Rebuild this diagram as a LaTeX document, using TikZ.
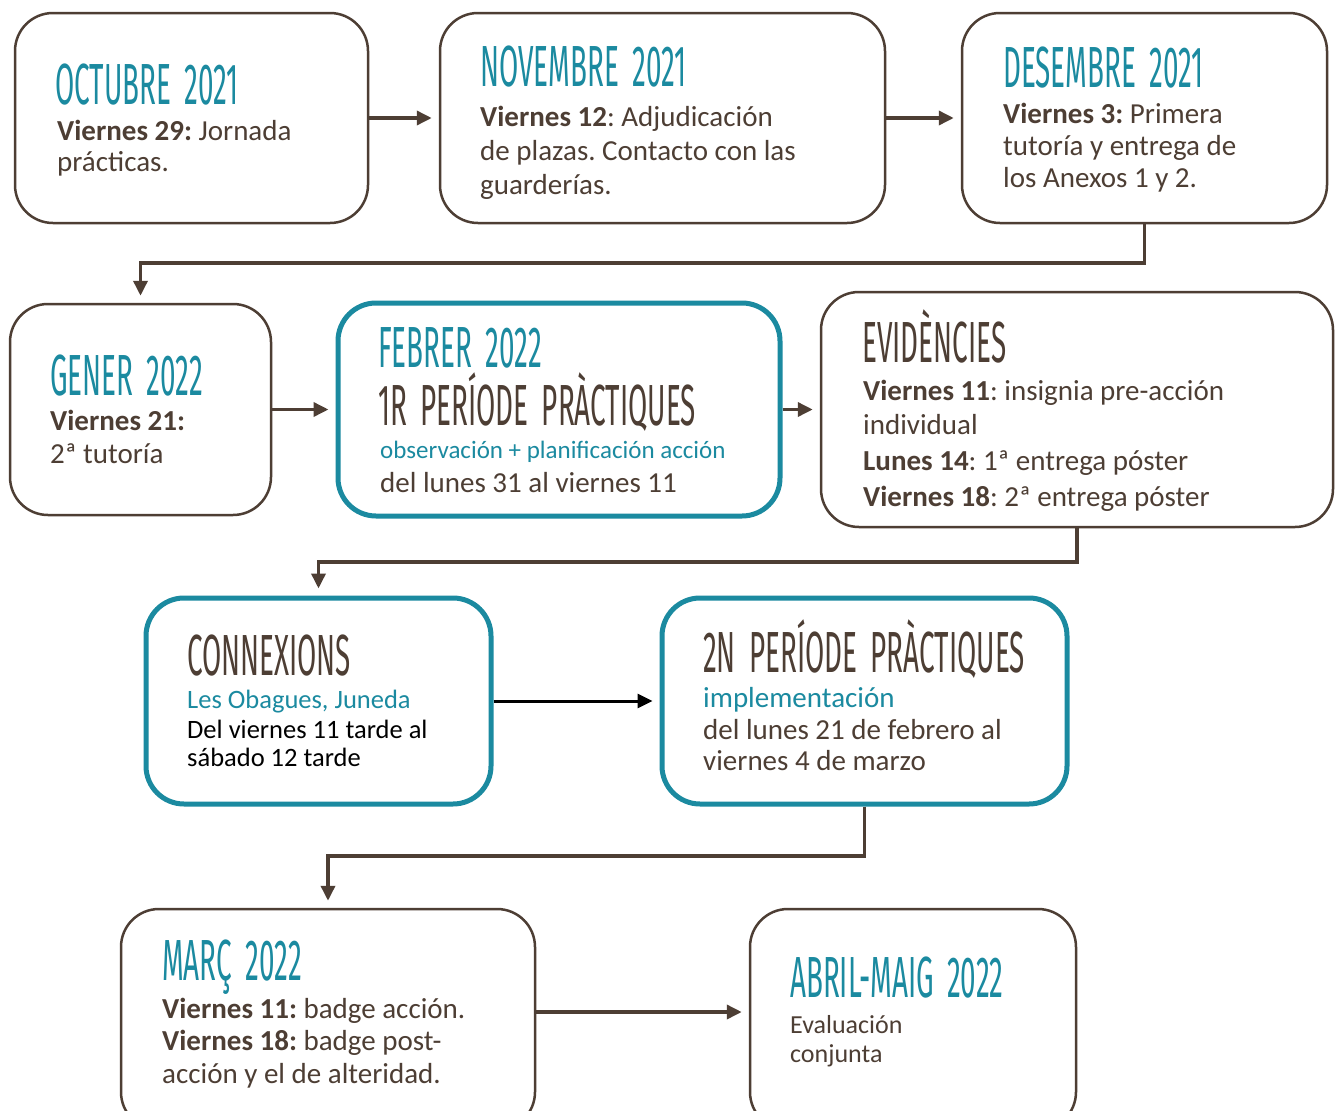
\documentclass[tikz,border=0pt]{standalone}
\usepackage{fontspec}
\setmainfont{Carlito}
\newfontfamily\ttlfont[FakeStretch=0.48, WordSpace=1.8]{Fira Sans}
\usetikzlibrary{arrows.meta}
\definecolor{brn}{RGB}{77,62,52}
\definecolor{tl}{RGB}{27,138,160}
\frenchspacing
\begin{document}
\begin{tikzpicture}[x=1pt,y=-1pt,
 box/.style={draw=brn, line width=2.5pt, rounded corners=38pt, inner sep=0pt, fill=white},
 tbox/.style={draw=tl, line width=5pt, rounded corners=38pt, inner sep=0pt, fill=white},
 ttl/.style={anchor=base west, inner sep=0pt, font=\ttlfont\fontsize{58}{60}\selectfont},
 txt/.style={anchor=base west, inner sep=0pt, font=\fontsize{29}{34}\selectfont, text=brn},
 sml/.style={anchor=base west, inner sep=0pt, font=\fontsize{25}{30}\selectfont},
 arr/.style={draw=brn, line width=3.5pt, shorten >=7pt, -{Triangle[length=15pt,width=14pt]}},
]
\useasboundingbox (0,0) rectangle (1342,1111);
\clip (0,0) rectangle (1342,1111);
\fill[white] (0,0) rectangle (1342,1111);

% boxes
\node[box,  minimum width=353pt, minimum height=210pt] (b1) at (191.5,118) {};
\node[box,  minimum width=445pt, minimum height=210pt] (b2) at (662.5,118) {};
\node[box,  minimum width=365pt, minimum height=210pt] (b3) at (1144.5,118) {};
\node[box,  minimum width=261pt, minimum height=211pt] (b4) at (140.5,409.5) {};
\node[tbox, minimum width=442pt, minimum height=213pt] (b5) at (559,409.5) {};
\node[box,  minimum width=512pt, minimum height=235pt] (b6) at (1077,409.5) {};
\node[tbox, minimum width=345pt, minimum height=206pt] (b7) at (318.5,701) {};
\node[tbox, minimum width=405pt, minimum height=206pt] (b8) at (864.5,701) {};
\node[box,  minimum width=414pt, minimum height=221pt] (b9) at (328,1019.5) {};
\node[box,  minimum width=326pt, minimum height=221pt] (b10) at (913,1019.5) {};

% helper coordinates
\coordinate (k1) at (0,263);
\coordinate (k2) at (0,562);
\coordinate (k3) at (0,856);
\coordinate (k4) at (0,1012);

% connectors
\draw[arr] (b1.east) -- (b2.west);
\draw[arr] (b2.east) -- (b3.west);
\draw[arr] (b3.south) -- (b3.south |- k1) -| (b4.north);
\draw[arr] (b4.east) -- (b5.west);
\draw[arr] (b5.east) -- (b6.west);
\draw[arr] (b6.south) -- (b6.south |- k2) -| (b7.north);
\draw[arr, draw=black, line width=3pt] (b7.east) -- (b8.west);
\draw[arr] (b8.south) -- (b8.south |- k3) -| (b9.north);
\draw[arr] (b9.east |- k4) -- (b10.west |- k4);

% box 1
\node[ttl, text=tl] (t1) at (55,104) {OCTUBRE 2021};
\node[txt] (l1a) at (57,140) {\textbf{Viernes 29:} Jornada};
\node[txt] (l1b) at (57,171) {prácticas.};
% box 2
\node[ttl, text=tl] (t2) at (480,86) {NOVEMBRE 2021};
\node[txt] (l2a) at (480,126) {\textbf{Viernes 12}: Adjudicación};
\node[txt] (l2b) at (480,160) {de plazas. Contacto con las};
\node[txt] (l2c) at (480,194) {guarderías.};
% box 3
\node[ttl, text=tl] (t3) at (1003,87) {DESEMBRE 2021};
\node[txt] (l3a) at (1003,123) {\textbf{Viernes 3:} Primera};
\node[txt] (l3b) at (1003,155) {tutoría y entrega de};
\node[txt] (l3c) at (1003,187) {los Anexos 1 y 2.};
% box 4
\node[ttl, text=tl] (t4) at (50,395) {GENER 2022};
\node[txt] (l4a) at (50,430) {\textbf{Viernes 21:}};
\node[txt] (l4b) at (50,463) {2ª tutoría};
% box 5
\node[ttl, text=tl] (t5a) at (378,367) {FEBRER 2022};
\node[ttl, text=brn] (t5b) at (378,425) {1R PERÍODE PRÀCTIQUES};
\node[sml, text=tl] (l5a) at (380,458) {observación + planificación acción};
\node[txt] (l5b) at (380,492) {del lunes 31 al viernes 11};
% box 6
\node[ttl, text=brn] (t6) at (862,362) {EVIDÈNCIES};
\node[txt] (l6a) at (863,400) {\textbf{Viernes 11}: insignia pre-acción};
\node[txt] (l6b) at (863,434) {individual};
\node[txt] (l6c) at (863,470) {\textbf{Lunes 14}: 1ª entrega póster};
\node[txt] (l6d) at (863,506) {\textbf{Viernes 18}: 2ª entrega póster};
% box 7
\node[ttl, text=brn] (t7) at (187,675) {CONNEXIONS};
\node[txt, font=\fontsize{26.5}{30}\selectfont, text=tl] (l7a) at (187,708) {Les Obagues, Juneda};
\node[txt, font=\fontsize{26.5}{30}\selectfont, text=black] (l7b) at (187,738) {Del viernes 11 tarde al};
\node[txt, font=\fontsize{26.5}{30}\selectfont, text=black] (l7c) at (187,766) {sábado 12 tarde};
% box 8
\node[ttl, text=brn] (t8) at (703,672) {2N PERÍODE PRÀCTIQUES};
\node[txt, text=tl] (l8a) at (703,707) {implementación};
\node[txt] (l8b) at (703,739) {del lunes 21 de febrero al};
\node[txt] (l8c) at (703,770) {viernes 4 de marzo};
% box 9
\node[ttl, text=tl] (t9) at (162,980) {MARÇ 2022};
\node[txt] (l9a) at (162,1018) {\textbf{Viernes 11:} badge acción.};
\node[txt] (l9b) at (162,1050) {\textbf{Viernes 18:} badge post-};
\node[txt] (l9c) at (162,1083) {acción y el de alteridad.};
% box 10
\node[ttl, text=tl] (t10) at (790,997) {ABRIL-MAIG 2022};
\node[sml, font=\fontsize{26}{30}\selectfont, text=brn] (l10a) at (790,1033) {Evaluación};
\node[sml, font=\fontsize{26}{30}\selectfont, text=brn] (l10b) at (790,1062) {conjunta};
\end{tikzpicture}
\end{document}
